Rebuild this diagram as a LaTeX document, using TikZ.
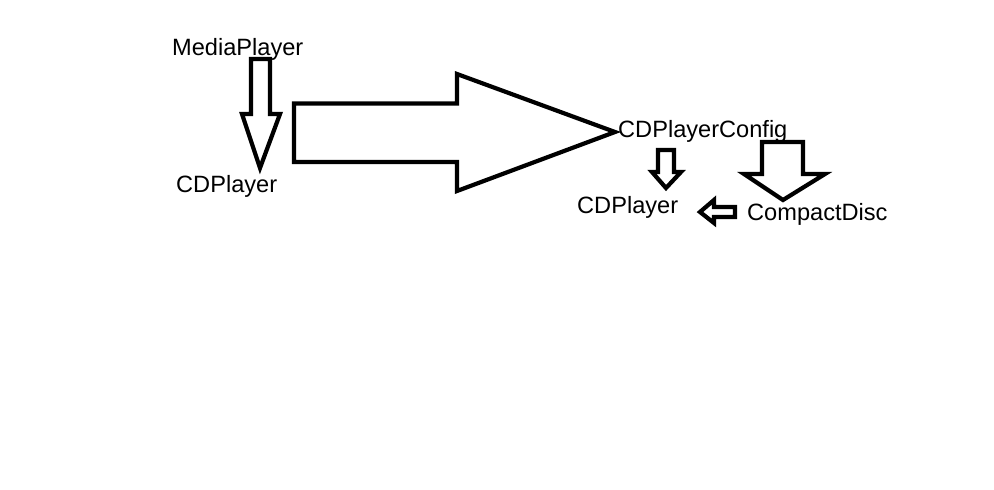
\documentclass[tikz,border=0pt]{standalone}
\usepackage{fontspec}
\setmainfont{Liberation Sans}
\begin{document}
\begin{tikzpicture}[x=1pt,y=-1pt,
  lbl/.style={anchor=base west,inner sep=0pt,font=\fontsize{23.6}{26}\selectfont},
  blockarrow/.style={draw=black,line width=4.2pt,line join=miter,fill=white}]
\useasboundingbox[fill=white] (0,0) rectangle (994,490);
% labels
\node[lbl] (mp) at (172,55) {MediaPlayer};
\node[lbl] (cd1) at (176,192) {CDPlayer};
\node[lbl] (cfg) at (618,137) {CDPlayerConfig};
\node[lbl] (cd2) at (577,213) {CDPlayer};
\node[lbl] (disc) at (747,220) {CompactDisc};
% MediaPlayer -> CDPlayer (down)
\draw[blockarrow] (251,59) -- (270,59) -- (270,114) -- (280,114) -- (260,168)
  -- (242,114) -- (251,114) -- cycle;
% big right arrow
\draw[blockarrow] (294,103.5) -- (457,103.5) -- (457,74) -- (615,132) -- (457,191)
  -- (457,162) -- (294,162) -- cycle;
% CDPlayerConfig -> CDPlayer (small down)
\draw[blockarrow] (658,150) -- (674,150) -- (674,172) -- (681,172) -- (666,188)
  -- (652,172) -- (658,172) -- cycle;
% CDPlayerConfig -> CompactDisc (big down)
\draw[blockarrow] (762,142) -- (803,142) -- (803,174) -- (825,174) -- (783,200)
  -- (744,174) -- (762,174) -- cycle;
% CompactDisc -> CDPlayer (left)
\draw[blockarrow] (735,207) -- (714,207) -- (714,200) -- (700,212) -- (714,223)
  -- (714,217) -- (735,217) -- cycle;
\end{tikzpicture}
\end{document}
